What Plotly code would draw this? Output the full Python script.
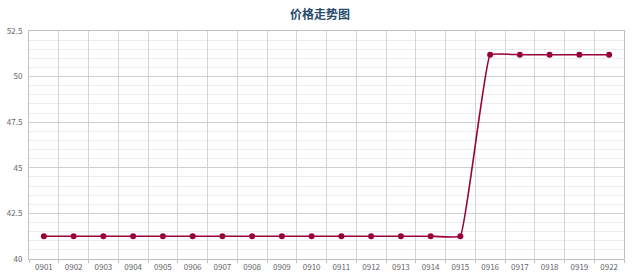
import plotly.graph_objects as go

dates = ["0901","0902","0903","0904","0905","0906","0907","0908","0909","0910",
         "0911","0912","0913","0914","0915","0916","0917","0918","0919","0922"]
prices = [41.25]*15 + [51.2]*5

fig = go.Figure()
fig.add_trace(go.Scatter(
    x=dates, y=prices, mode="lines+markers",
    line=dict(color="#99003a", width=1.6, shape="spline", smoothing=0.25),
    marker=dict(color="#99003a", size=6),
    hoverinfo="x+y",
))

fig.update_layout(
    width=640, height=278,
    margin=dict(l=29, r=16, t=31, b=19, autoexpand=False),
    paper_bgcolor="white", plot_bgcolor="white",
    showlegend=False,
    title=dict(text="<b>价格走势图</b>", x=0.5, xanchor="center", y=0.945, yanchor="middle",
               font=dict(family="Noto Sans CJK SC", size=12, color="#274b6d")),
    font=dict(family="Noto Sans CJK SC", size=8, color="#666666"),
)
fig.update_xaxes(
    type="category", tickson="boundaries", showgrid=True, gridcolor="#d4d4d4", gridwidth=1,
    showline=True, linecolor="#c0c0c0", mirror=True, automargin=False,
    ticks="outside", ticklen=3, tickcolor="#c0c0c0",
    tickfont=dict(size=8, color="#666666"), range=[-0.5, 19.5],
)
fig.update_yaxes(
    range=[40, 52.5], dtick=2.5, tick0=40, showgrid=True, gridcolor="#cfcfcf",
    showline=True, linecolor="#c0c0c0", mirror=True, zeroline=False, automargin=False,
    tickfont=dict(size=8, color="#666666"), ticks="", ticklabelstandoff=4,
    minor=dict(dtick=0.5, showgrid=True, gridcolor="#ececec"),
)

fig.write_html("out.html")
